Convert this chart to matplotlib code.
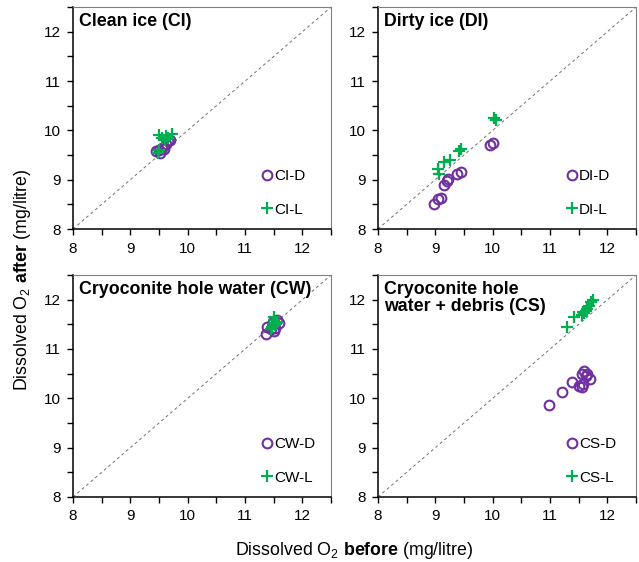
import numpy as np
import matplotlib
matplotlib.use("Agg")
import matplotlib.pyplot as plt
from matplotlib.ticker import MultipleLocator

plt.rcParams["font.family"] = ["Liberation Sans", "DejaVu Sans"]
plt.rcParams["mathtext.fontset"] = "custom"
plt.rcParams["mathtext.rm"] = "Liberation Sans"
plt.rcParams["mathtext.bf"] = "Liberation Sans:bold"

PURPLE = "#7030A0"
GREEN = "#00B050"

# (before, after) values
ci_d_before = [9.45, 9.50, 9.52, 9.58, 9.62, 9.65, 9.70, 9.55]
ci_d_after = [9.58, 9.60, 9.55, 9.62, 9.72, 9.78, 9.80, 9.65]
ci_l_before = [9.50, 9.55, 9.65, 9.72, 9.60, 9.50, 9.48, 9.62]
ci_l_after = [9.90, 9.85, 9.85, 9.92, 9.80, 9.60, 9.55, 9.88]

di_d_before = [8.97, 9.05, 9.10, 9.15, 9.20, 9.22, 9.38, 9.45, 9.95, 10.00]
di_d_after = [8.50, 8.60, 8.62, 8.90, 8.97, 9.02, 9.12, 9.15, 9.70, 9.74]
di_l_before = [9.05, 9.07, 9.15, 9.25, 9.45, 9.42, 10.02, 10.05]
di_l_after = [9.22, 9.12, 9.35, 9.40, 9.62, 9.58, 10.25, 10.20]

cw_d_before = [11.37, 11.38, 11.45, 11.50, 11.52, 11.60, 11.48, 11.55]
cw_d_after = [11.31, 11.45, 11.40, 11.36, 11.42, 11.52, 11.55, 11.58]
cw_l_before = [11.50, 11.47, 11.53, 11.45, 11.50, 11.52, 11.48, 11.55]
cw_l_after = [11.65, 11.45, 11.52, 11.40, 11.58, 11.48, 11.50, 11.55]

cs_d_before = [10.98, 11.20, 11.38, 11.55, 11.60, 11.65, 11.58, 11.55, 11.70, 11.62, 11.50]
cs_d_after = [9.87, 10.13, 10.33, 10.50, 10.55, 10.50, 10.30, 10.22, 10.40, 10.45, 10.25]
cs_l_before = [11.30, 11.42, 11.55, 11.60, 11.62, 11.65, 11.68, 11.72, 11.75, 11.58]
cs_l_after = [11.45, 11.65, 11.68, 11.72, 11.78, 11.82, 11.88, 11.95, 12.00, 11.75]

panels = [
    ("Clean ice (CI)", "CI", ci_d_before, ci_d_after, ci_l_before, ci_l_after),
    ("Dirty ice (DI)", "DI", di_d_before, di_d_after, di_l_before, di_l_after),
    ("Cryoconite hole water (CW)", "CW", cw_d_before, cw_d_after, cw_l_before, cw_l_after),
    ("Cryoconite hole\nwater + debris (CS)", "CS", cs_d_before, cs_d_after, cs_l_before, cs_l_after),
]

fig = plt.figure(figsize=(6.39, 5.62), dpi=100)
w, h = 0.404, 0.395
positions = [(0.1142, 0.5925), (0.5915, 0.5925), (0.1142, 0.1157), (0.5915, 0.1157)]

for (title, code, db, da, lb, la), (x0, y0) in zip(panels, positions):
    ax = fig.add_axes([x0, y0, w, h])
    ax.plot([8, 12.5], [8, 12.5], ls=(0, (3, 3)), color="#707070", lw=0.7)
    ax.plot(db, da, "o", mfc="none", mec=PURPLE, mew=1.5, ms=7, ls="none",
            label=code + "-D")
    ax.plot(lb, la, "+", color=GREEN, mew=1.6, ms=8.5, ls="none",
            label=code + "-L")
    ax.set_xlim(8, 12.5)
    ax.set_ylim(8, 12.5)
    ax.xaxis.set_major_locator(MultipleLocator(1))
    ax.yaxis.set_major_locator(MultipleLocator(1))
    ax.xaxis.set_minor_locator(MultipleLocator(0.5))
    ax.yaxis.set_minor_locator(MultipleLocator(0.5))
    ax.tick_params(which="both", direction="out", length=4, width=1,
                   labelsize=11, top=False, right=False)
    ax.tick_params(which="major", pad=5)
    for s in ["top", "right"]:
        ax.spines[s].set_color("#808080")
    for s in ["left", "bottom"]:
        ax.spines[s].set_linewidth(1.1)
    ax.text(0.025, 0.975, title, transform=ax.transAxes, ha="left", va="top",
            fontsize=12.8, fontweight="bold", linespacing=1.05)
    ax.legend(loc="lower left", bbox_to_anchor=(0.735, 0.055), frameon=False,
              numpoints=1, handlelength=0.6, handletextpad=0.15,
              labelspacing=1.3, fontsize=11, borderaxespad=0, borderpad=0)

fig.text(0.035, 0.502, "Dissolved O$_2$ $\\mathbf{after}$ (mg/litre)",
         rotation=90, ha="center", va="center", fontsize=12.8)
fig.text(0.555, 0.02, "Dissolved O$_2$ $\\mathbf{before}$ (mg/litre)",
         ha="center", va="center", fontsize=12.8)

fig.savefig("out.png", dpi=100)
